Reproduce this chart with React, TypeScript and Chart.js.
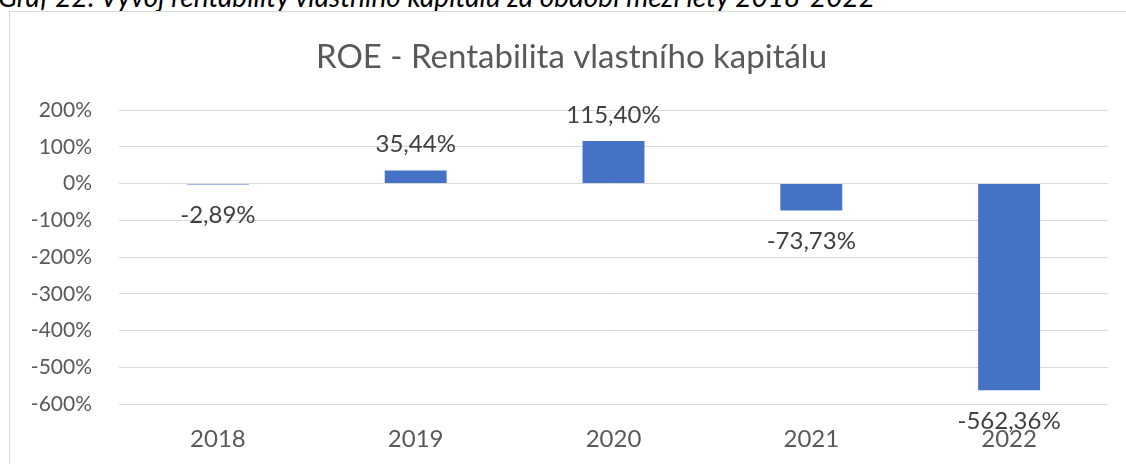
import React, { useEffect, useRef } from "react";
import { Chart, registerables } from "chart.js";

Chart.register(...registerables);

const chartTitle = "ROE - Rentabilita vlastního kapitálu";
const captionText = "Graf 22: Vývoj rentability vlastního kapitálu za období mezi lety 2018-2022";
const categories = ["2018", "2019", "2020", "2021", "2022"];
const roeValues = [-2.89, 35.44, 115.4, -73.73, -562.36];
const yMin = -600;
const yMax = 200;
const yStep = 100;

const FONT = "Lato";
const axisColor = "#595959";
const labelColor = "#404040";
const gridColor = "#d9d9d9";
const barColor = "#4472C4";

const fmtPct = (v: number) => v.toFixed(2).replace(".", ",") + "%";

const dataLabelPlugin = {
  id: "roeDataLabels",
  afterDatasetsDraw(chart: any) {
    const ctx = chart.ctx;
    const meta = chart.getDatasetMeta(0);
    ctx.save();
    ctx.font = `24px ${FONT}`;
    ctx.fillStyle = labelColor;
    ctx.textAlign = "center";
    ctx.textBaseline = "middle";
    meta.data.forEach((bar: any, i: number) => {
      const v = roeValues[i];
      const p = bar.getProps(["x", "y"], true);
      const yy = v >= 0 ? p.y - 26 : p.y + 31;
      ctx.fillText(fmtPct(v), p.x, yy);
    });
    ctx.restore();
  },
};

// Title centred on the bordered chart box (as in the source), not on the canvas
const boxTitlePlugin = {
  id: "boxTitle",
  afterDraw(chart: any) {
    const ctx = chart.ctx;
    ctx.save();
    ctx.font = `33px ${FONT}`;
    ctx.fillStyle = axisColor;
    ctx.textAlign = "center";
    ctx.textBaseline = "middle";
    ctx.fillText(chartTitle, 571.5, 57);
    ctx.restore();
  },
};

export default function App() {
  const canvasRef = useRef<HTMLCanvasElement | null>(null);

  useEffect(() => {
    if (!canvasRef.current) return;
    const chart = new Chart(canvasRef.current, {
      type: "bar",
      data: {
        labels: categories,
        datasets: [
          {
            label: "ROE",
            data: roeValues,
            backgroundColor: barColor,
            borderWidth: 0,
            categoryPercentage: 1,
            barPercentage: 0.313,
          },
        ],
      },
      options: {
        animation: false,
        responsive: false,
        devicePixelRatio: 1,
        layout: { padding: { left: 0, right: 18, top: 110, bottom: 10 } },
        plugins: {
          legend: { display: false },
          tooltip: { enabled: false },
          title: { display: false },
        },
        scales: {
          x: {
            grid: { display: false, drawTicks: false },
            border: { display: false },
            ticks: {
              color: axisColor,
              font: { family: FONT, size: 24 },
              padding: 21,
              maxRotation: 0,
            },
            afterFit: (scale: any) => {
              scale.height = 50;
            },
          },
          y: {
            min: yMin,
            max: yMax,
            grid: { color: gridColor, lineWidth: 1, drawTicks: false },
            border: { display: false },
            ticks: {
              stepSize: yStep,
              color: axisColor,
              font: { family: FONT, size: 21 },
              padding: 27,
              callback: (v: any) => `${v}%`,
            },
            afterFit: (scale: any) => {
              scale.width = 119;
            },
          },
        },
      },
      plugins: [dataLabelPlugin, boxTitlePlugin],
    });
    return () => chart.destroy();
  }, []);

  return (
    <div
      style={{
        position: "fixed",
        left: 0,
        top: 0,
        width: 1126,
        height: 464,
        overflow: "hidden",
        background: "#ffffff",
      }}
    >
      <div
        style={{
          position: "absolute",
          left: -2,
          top: -18,
          fontFamily: FONT,
          fontStyle: "italic",
          fontSize: 28,
          lineHeight: "28px",
          color: "#000000",
          whiteSpace: "nowrap",
        }}
      >
        {captionText}
      </div>
      <div
        style={{
          position: "absolute",
          left: 9,
          top: 11,
          width: 1300,
          height: 600,
          border: `1px solid ${gridColor}`,
          boxSizing: "border-box",
        }}
      />
      <canvas
        ref={canvasRef}
        width={1126}
        height={464}
        style={{ position: "absolute", left: 0, top: 0, width: 1126, height: 464 }}
      />
    </div>
  );
}
